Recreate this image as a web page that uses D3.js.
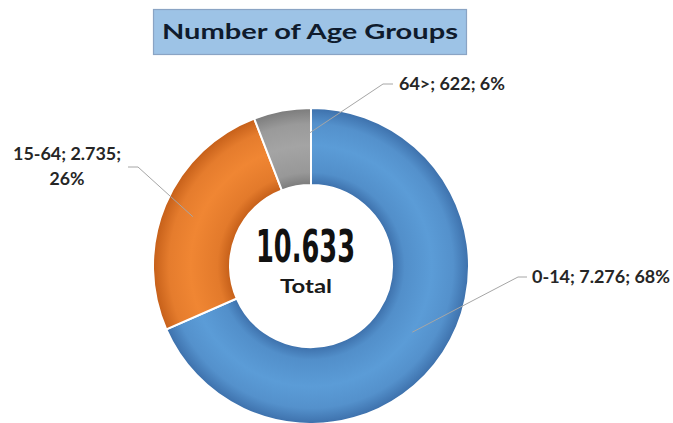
<!DOCTYPE html>
<html>
<head>
<meta charset="utf-8">
<script src="https://cdn.jsdelivr.net/npm/d3@7/dist/d3.min.js"></script>
<style>
  html, body { margin: 0; padding: 0; background: #ffffff; }
  svg { display: block; }
</style>
</head>
<body>
<svg id="chart" width="673" height="423"></svg>
<script>
// ---- data ----
const categories = ["0-14", "15-64", "64>"];
const values = [7276, 2735, 622];
const titleText = "Number of Age Groups";
const totalLabel = "Total";

// ---- styles / layout (kept separate from data) ----
const sliceColors = {
  "0-14":  { edge: "#3d70ab", mid: "#5b9cd7" },
  "15-64": { edge: "#c55f19", mid: "#f08633" },
  "64>":   { edge: "#7b7b7b", mid: "#a4a4a4" }
};
const labelLayout = {
  "0-14":  { t: 0.5,  r: 121, elbow: [518, 277], end: [527, 277], x: 532, y: 283, anchor: "start", lines: 1, widths: [138] },
  "15-64": { t: 0.5,  r: 128, elbow: [138, 167], end: [128, 167], x: 67,  y: 160, anchor: "middle", lines: 2, widths: [108, 35] },
  "64>":   { t: 0.97, r: 133, elbow: [383, 84],  end: [393, 84],  x: 399, y: 90,  anchor: "start", lines: 1, widths: [106] }
};

const svg = d3.select("#chart");
const W = 673, H = 423;
const cx = 311, cy = 266, outerR = 158, innerR = 81;

const locale = d3.formatLocale({ decimal: ",", thousands: ".", grouping: [3], currency: ["", ""] });
const fmt = locale.format(",d");
const total = d3.sum(values);

// ---- gradients ----
const defs = svg.append("defs");
categories.forEach((c, i) => {
  const g = defs.append("radialGradient")
    .attr("id", "grad" + i)
    .attr("gradientUnits", "userSpaceOnUse")
    .attr("cx", 0).attr("cy", 0).attr("r", outerR);
  const col = sliceColors[c];
  const f = innerR / outerR;
  const stops = [
    [f, col.edge], [f + 0.08, d3.interpolateRgb(col.edge, col.mid)(0.7)],
    [f + 0.25, col.mid], [0.9, d3.interpolateRgb(col.edge, col.mid)(0.75)], [1, col.edge]
  ];
  stops.forEach(s => g.append("stop").attr("offset", s[0]).attr("stop-color", s[1]));
});

// ---- title ----
const titleG = svg.append("g");
titleG.append("rect")
  .attr("x", 153.5).attr("y", 9.5).attr("width", 313).attr("height", 45)
  .attr("fill", "#9dc3e6").attr("stroke", "#8aa4c4").attr("stroke-width", 1.2);
titleG.append("text")
  .attr("x", 310).attr("y", 39)
  .attr("text-anchor", "middle")
  .attr("font-family", "Lato, 'Open Sans', sans-serif")
  .attr("font-weight", "bold")
  .attr("font-size", 21)
  .attr("fill", "#0f1b2d")
  .attr("textLength", 296).attr("lengthAdjust", "spacingAndGlyphs")
  .text(titleText);

// ---- donut ----
const pie = d3.pie().sort(null).value(d => d.value);
const arcs = pie(categories.map((c, i) => ({ cat: c, value: values[i], idx: i })));
const arc = d3.arc().innerRadius(innerR).outerRadius(outerR);

const g = svg.append("g").attr("transform", `translate(${cx},${cy})`);
g.selectAll("path.slice")
  .data(arcs)
  .join("path")
  .attr("class", "slice")
  .attr("d", arc)
  .attr("fill", d => `url(#grad${d.data.idx})`)
  .attr("stroke", "#ffffff")
  .attr("stroke-width", 2);

// ---- leader lines & labels ----
arcs.forEach(d => {
  const L = labelLayout[d.data.cat];
  const ang = d.startAngle + (d.endAngle - d.startAngle) * L.t;
  const p = d3.pointRadial(ang, L.r);
  const start = [cx + p[0], cy + p[1]];
  svg.append("polyline")
    .attr("points", [start, L.elbow, L.end].map(q => q.join(",")).join(" "))
    .attr("fill", "none")
    .attr("stroke", "#a6a6a6")
    .attr("stroke-width", 1);

  const pct = Math.round(d.data.value / total * 100) + "%";
  const parts = L.lines === 2
    ? [`${d.data.cat}; ${fmt(d.data.value)};`, pct]
    : [`${d.data.cat}; ${fmt(d.data.value)}; ${pct}`];
  parts.forEach((txt, k) => {
    svg.append("text")
      .attr("x", L.x).attr("y", L.y + k * 25)
      .attr("text-anchor", L.anchor)
      .attr("font-family", "Lato, 'Open Sans', sans-serif")
      .attr("font-weight", "bold")
      .attr("font-size", 16.5)
      .attr("fill", "#262626")
      .attr("textLength", L.widths[k]).attr("lengthAdjust", "spacingAndGlyphs")
      .text(txt);
  });
});

// ---- center total ----
svg.append("text")
  .attr("x", 305.5).attr("y", 262)
  .attr("text-anchor", "middle")
  .attr("font-family", "'Liberation Sans Narrow', 'DejaVu Sans Condensed', sans-serif")
  .attr("font-weight", "bold")
  .attr("font-size", 44)
  .attr("fill", "#111111")
  .attr("textLength", 99).attr("lengthAdjust", "spacingAndGlyphs")
  .text(fmt(total));
svg.append("text")
  .attr("x", 306).attr("y", 293)
  .attr("text-anchor", "middle")
  .attr("font-family", "Lato, 'Open Sans', sans-serif")
  .attr("font-weight", "bold")
  .attr("font-size", 19.5)
  .attr("fill", "#1a1a1a")
  .attr("textLength", 52).attr("lengthAdjust", "spacingAndGlyphs")
  .text(totalLabel);
</script>
</body>
</html>
